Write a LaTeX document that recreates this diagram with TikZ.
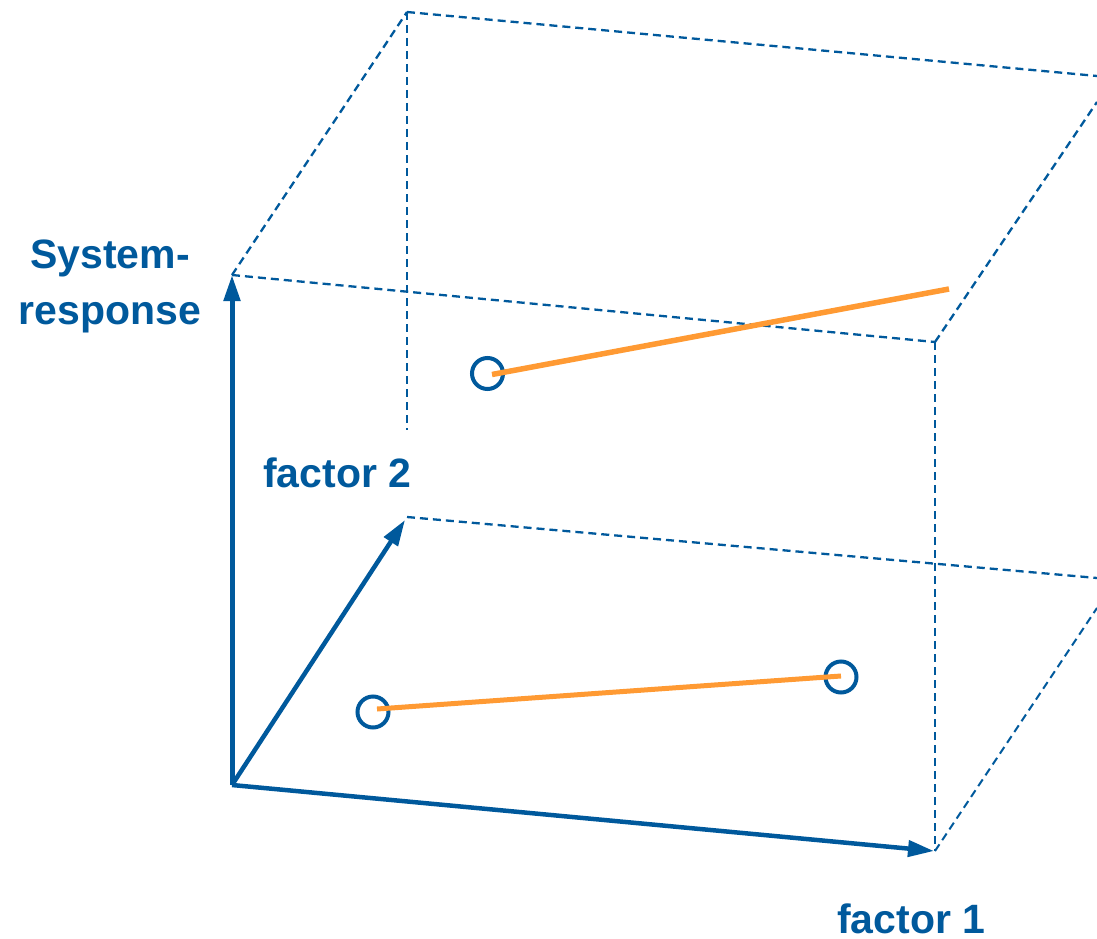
\documentclass[tikz,border=0pt]{standalone}
\usepackage{fontspec}
\setmainfont{Liberation Sans}
\usetikzlibrary{arrows.meta}
\definecolor{axisblue}{RGB}{0,89,156}
\definecolor{lineorange}{RGB}{255,154,51}
\begin{document}
\begin{tikzpicture}[x=1pt,y=-1pt,
  axis/.style={draw=axisblue,line width=5pt,-{Triangle[length=26pt,width=16pt]}},
  edge/.style={draw=axisblue,line width=2.3pt,dash pattern=on 8pt off 5pt},
  trend/.style={draw=lineorange,line width=5.5pt},
  marker/.style={circle,draw=axisblue,line width=4pt,minimum size=31pt,inner sep=0pt},
  lbl/.style={text=axisblue,font=\bfseries\fontsize{41}{49}\selectfont,inner sep=0pt}]
\useasboundingbox (0,0) rectangle (1097,939);

% corners of the response box
\coordinate (O) at (232,785);
\coordinate (Z) at (232,275);
\coordinate (X) at (934,851);
\coordinate (Y) at (405,520);
\coordinate (B) at (407,12);
\coordinate (T) at (935,342);
\coordinate (F) at (935,851);
\coordinate (Bmid) at (407,430);
\coordinate (Yb) at (407,517);
\coordinate (Rtop) at (1097,76);
\coordinate (Rtopd) at (1097,102);
\coordinate (Rbot) at (1097,578);
\coordinate (Rbotd) at (1097,608);

% dashed edges
\draw[edge] (Z) -- (T);
\draw[edge] (Z) -- (B);
\draw[edge] (B) -- (Rtop);
\draw[edge] (T) -- (Rtopd);
\draw[edge] (B) -- (Bmid);
\draw[edge,line width=2pt] (T) -- (F);
\draw[edge] (Yb) -- (Rbot);
\draw[edge,line width=2pt] (F) -- (Rbotd);

% axes
\draw[axis,line join=miter] (O) -- (Z);
\draw[axis,line width=4.5pt] (O) -- (Y);
\draw[axis,line width=4.5pt] (O) -- (X);

% markers and trend lines
\node[marker] (p1) at (487.5,373.5) {};
\node[marker] (p2) at (373,712) {};
\node[marker] (p3) at (841,677) {};
\coordinate (e1) at (949,289);
\draw[trend] ([xshift=4.5pt,yshift=-1pt]p1.center) -- (e1);
\draw[trend,line width=5pt] ([xshift=4pt,yshift=3pt]p2.center) -- ([yshift=1pt]p3.center);

% labels
\node[lbl,anchor=base] (sys1) at (110,268) {System-};
\node[lbl,anchor=base] (sys2) at (110,324) {response};
\node[lbl,anchor=base west] (f2) at (263,487) {factor 2};
\node[lbl,anchor=base west] (f1) at (837,933) {factor 1};
\end{tikzpicture}
\end{document}
